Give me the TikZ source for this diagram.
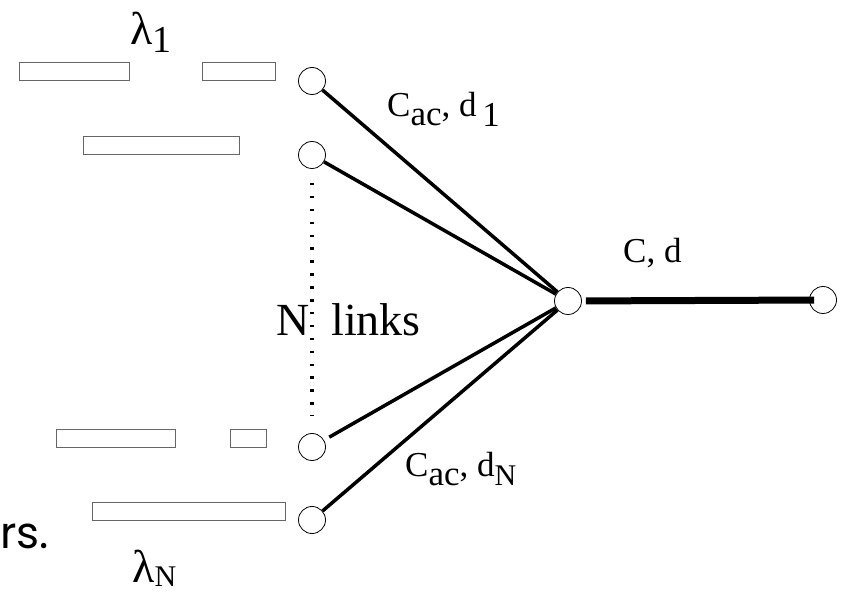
\documentclass[tikz,border=0pt]{standalone}
\usepackage{fontspec}
\setmainfont{Liberation Serif}
\newfontfamily\rsfont{Poppins}
\begin{document}
\begin{tikzpicture}[x=1pt,y=-1pt,
  port/.style={circle,draw,line width=0.8pt,fill=white,minimum size=27pt,inner sep=0pt},
  pkt/.style={draw=black!60,line width=0.9pt},
  link/.style={line width=3.5pt},
  trunk/.style={line width=7pt},
  lbl/.style={inner sep=0pt,anchor=base west,font=\fontsize{35}{40}\selectfont},
  lam/.style={inner sep=0pt,anchor=base west,font=\fontsize{46}{50}\selectfont}]
\useasboundingbox (0,0) rectangle (844,593);
% packets
\draw[pkt] (19,62) rectangle (129,80);
\draw[pkt] (202,62) rectangle (275,80);
\draw[pkt] (83,136) rectangle (239,154);
\draw[pkt] (56,429) rectangle (175,447);
\draw[pkt] (230,429) rectangle (266,447);
\draw[pkt] (92,502) rectangle (285,520);
% dotted line
\coordinate (dtop) at (312,183);
\coordinate (dbot) at (312,416);
\draw[line width=3.5pt,dash pattern=on 2.5pt off 10.4pt] (dtop) -- (dbot);
% ports
\node[port] (c1) at (312,81) {};
\node[port] (c2) at (312,155) {};
\node[port] (c3) at (312,447) {};
\node[port] (c4) at (312,520) {};
\node[port] (hub) at (568,301) {};
\node[port] (out) at (823,300) {};
% links
\draw[link] (c1) -- (hub);
\draw[link] (c2) -- (hub);
\draw[link,shorten <=6pt] (c3) -- (hub);
\draw[link] (c4) -- (hub);
\draw[trunk,shorten <=4pt,shorten >=-5pt] (hub) -- (out);
% labels
\node[lam] (l1) at (130,45) {λ\raisebox{-8pt}{\fontsize{38}{40}\selectfont 1}};
\node[lam] (lN) at (132,582) {λ\raisebox{-5pt}{\fontsize{30}{32}\selectfont N}};
\node[lbl] (lab1) at (387,117) {C\raisebox{-9pt}{ac}, d\,\raisebox{-10pt}{1}};
\node[lbl] (labN) at (405,477) {C\raisebox{-9pt}{ac}, d\raisebox{-9pt}{\fontsize{30}{32}\selectfont N}};
\node[lbl] (labC) at (623,263) {C, d};
\node[inner sep=0pt,anchor=base west,font=\fontsize{46}{50}\selectfont] (nl) at (276,336) {N\hspace{22pt}links};
\node[inner sep=0pt,anchor=base west,font=\rsfont\fontsize{44}{48}\selectfont] (rs) at (0,548) {rs.};
\end{tikzpicture}
\end{document}
